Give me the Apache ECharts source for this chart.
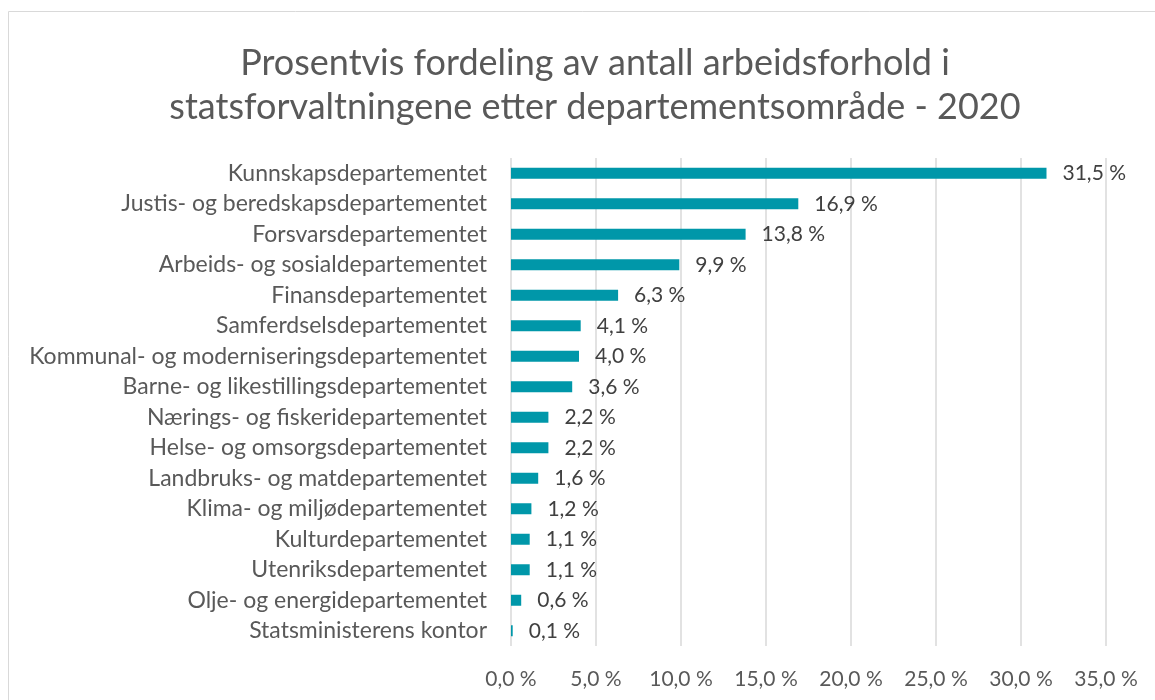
<!DOCTYPE html>
<html>
<head>
<meta charset="utf-8">
<script src="https://cdn.jsdelivr.net/npm/echarts@6/dist/echarts.min.js"></script>
<style>
  html, body { margin: 0; padding: 0; background: #fff; }
  #chart { width: 1155px; height: 700px; }
</style>
</head>
<body>
<div id="chart"></div>
<script>
const departementer = [
    'Kunnskapsdepartementet',
    'Justis- og beredskapsdepartementet',
    'Forsvarsdepartementet',
    'Arbeids- og sosialdepartementet',
    'Finansdepartementet',
    'Samferdselsdepartementet',
    'Kommunal- og moderniseringsdepartementet',
    'Barne- og likestillingsdepartementet',
    'Nærings- og fiskeridepartementet',
    'Helse- og omsorgsdepartementet',
    'Landbruks- og matdepartementet',
    'Klima- og miljødepartementet',
    'Kulturdepartementet',
    'Utenriksdepartementet',
    'Olje- og energidepartementet',
    'Statsministerens kontor'
];
const andel = [31.5, 16.9, 13.8, 9.9, 6.3, 4.1, 4.0, 3.6, 2.2, 2.2, 1.6, 1.2, 1.1, 1.1, 0.6, 0.1];

const fmt = v => v.toFixed(1).replace('.', ',') + ' %';
const font = 'Lato';

const chart = echarts.init(document.getElementById('chart'), null, { renderer: 'canvas' });

chart.setOption({
    animation: false,
    textStyle: { fontFamily: font },
    graphic: [{
        type: 'rect',
        shape: { x: 8.5, y: 11.5, width: 1160, height: 700 },
        style: { fill: 'none', stroke: '#d9d9d9', lineWidth: 1 }
    }],
    title: {
        text: 'Prosentvis fordeling av antall arbeidsforhold i\nstatsforvaltningene etter departementsområde - 2020',
        left: 590,
        top: 36,
        textAlign: 'center',
        textStyle: {
            fontFamily: font,
            fontSize: 36,
            fontWeight: 'normal',
            color: '#595959',
            lineHeight: 44
        }
    },
    grid: {
        left: 511,
        right: 49,
        top: 158,
        bottom: 54,
        containLabel: false
    },
    xAxis: {
        type: 'value',
        min: 0,
        max: 35,
        interval: 5,
        axisLine: { show: false },
        axisTick: { show: false },
        splitLine: { lineStyle: { color: '#d9d9d9', width: 1.5 } },
        axisLabel: {
            formatter: fmt,
            color: '#595959',
            fontSize: 21,
            margin: 23
        }
    },
    yAxis: {
        type: 'category',
        inverse: true,
        data: departementer,
        axisLine: { show: false },
        axisTick: { show: false },
        axisLabel: {
            color: '#595959',
            fontSize: 23,
            margin: 24
        }
    },
    series: [{
        type: 'bar',
        data: andel,
        barWidth: 11,
        itemStyle: { color: '#0097a9' },
        label: {
            show: true,
            position: 'right',
            distance: 16,
            formatter: p => fmt(p.value),
            color: '#404040',
            fontSize: 21
        }
    }]
});
</script>
</body>
</html>
